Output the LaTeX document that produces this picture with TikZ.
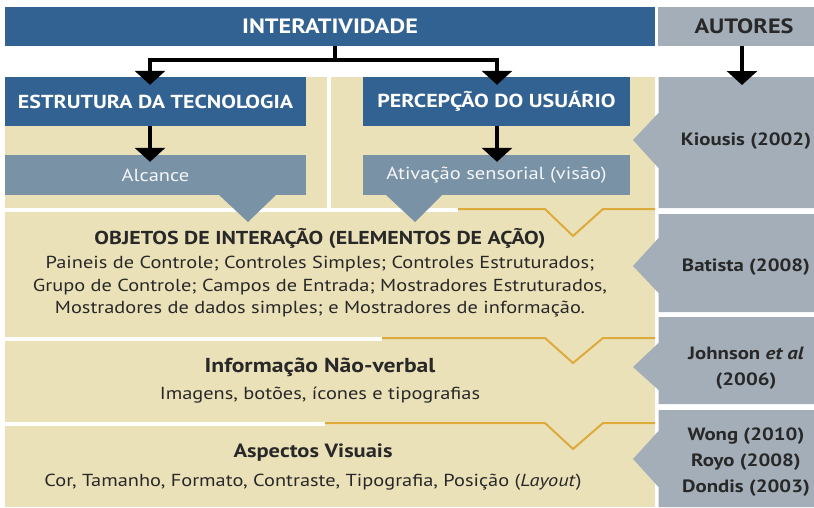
\documentclass[tikz,border=0pt]{standalone}
\usepackage{fontspec}
\setmainfont{PT Sans}[FakeStretch=1.17]
\usetikzlibrary{arrows.meta,positioning}

\definecolor{barblue}{RGB}{50,98,145}
\definecolor{subgray}{RGB}{122,146,166}
\definecolor{colgray}{RGB}{164,174,185}
\definecolor{beige}{RGB}{235,225,185}
\definecolor{lineorange}{RGB}{222,170,60}
\definecolor{txtdark}{RGB}{40,40,40}

\begin{document}
\begin{tikzpicture}[x=1pt, y=-1pt,
  node distance=3pt,
  headbar/.style={fill=barblue, text=white, minimum height=39pt, inner sep=0pt, font=\fontsize{20.7}{24}\selectfont\bfseries},
  headbox/.style={fill=barblue, text=white, minimum height=49pt, inner sep=0pt, font=\fontsize{18.8}{22}\selectfont\bfseries},
  subbox/.style={fill=subgray, text=white!92!subgray, minimum height=40pt, inner sep=0pt, font=\fontsize{17.5}{21}\selectfont},
  authtext/.style={text=txtdark, inner sep=0pt, align=center, font=\fontsize{17.8}{26}\selectfont\bfseries},
  rowtitle/.style={text=txtdark, inner sep=0pt, font=\fontsize{18.7}{23}\selectfont\bfseries},
  rowbody/.style={text=txtdark, inner sep=0pt, align=center, font=\fontsize{17.4}{22.5}\selectfont},
  arr/.style={-{Triangle[length=14pt,width=30pt]}, line width=4pt},
  chevron/.style={draw=lineorange, line width=2pt},
  gap/.style={draw=white, line width=4pt}
]
  \useasboundingbox[fill=white] (0,0) rectangle (814,507);

  % beige background and separations
  \fill[beige] (5,77) rectangle (655,507);
  \draw[gap] (328.5,77) -- (328.5,210);
  \draw[gap] (5,210) -- (458,210);
  \draw[gap] (5,339) -- (382,339);
  \draw[gap] (5,424) -- (325,424);
  \draw[chevron] (458,209) -- (545,209) -- (573,236) -- (603,209) -- (655,209);
  \draw[chevron] (382,338) -- (545,338) -- (573,363) -- (603,338) -- (655,338);
  \draw[chevron] (325,423) -- (545,423) -- (573,449) -- (603,423) -- (655,423);

  % top bars
  \node[headbar, minimum width=650pt] (inter) at (330,26.5) {INTERATIVIDADE};
  \node[headbar, fill=colgray, text=txtdark, minimum width=172pt] (autores) at (744,26.5) {AUTORES};

  % first level
  \node[headbox, minimum width=301pt] (estr) at (155.5,101.5) {ESTRUTURA DA TECNOLOGIA};
  \node[headbox, minimum width=267pt] (perc) at (496.5,101.5) {PERCEPÇÃO DO USUÁRIO};
  \node[subbox, minimum width=301pt] (alc) at (155.5,175) {Alcance};
  \node[subbox, minimum width=267pt] (ativ) at (496.5,175) {Ativação sensorial (visão)};
  \fill[subgray] (218,194) -- (248,222) -- (277,194) -- cycle;
  \fill[subgray] (385,194) -- (415,222) -- (443,194) -- cycle;

  % arrows
  \coordinate (split) at (335,60);
  \draw[line width=4pt] ([xshift=5pt]inter.south) -- (split);
  \draw[arr] (split) -| ([xshift=-5.5pt,yshift=-8pt]estr.north);
  \draw[arr] (split) -| ([xshift=0.5pt,yshift=-8pt]perc.north);
  \draw[arr] ([xshift=-5.5pt]estr.south) -- ([xshift=-5.5pt,yshift=-7pt]alc.north);
  \draw[arr] ([xshift=0.5pt]perc.south) -- ([xshift=0.5pt,yshift=-7pt]ativ.north);

  % rows
  \node[rowtitle] (objt) at (320,238) {OBJETOS DE INTERAÇÃO (ELEMENTOS DE AÇÃO)};
  \node[rowbody, below=8pt of objt] (objb) {Paineis de Controle; Controles Simples; Controles Estruturados;\\
    Grupo de Controle; Campos de Entrada; Mostradores Estruturados,\\
    Mostradores de dados simples; e Mostradores de informação.};
  \node[rowtitle, font=\fontsize{20.2}{24}\selectfont\bfseries] (infot) at (320,367) {Informação Não-verbal};
  \node[rowbody, below=10pt of infot] (infob) {Imagens, botões, ícones e tipografias};
  \node[rowtitle, font=\fontsize{19.2}{23}\selectfont\bfseries] (aspt) at (313,453) {Aspectos Visuais};
  \node[rowbody, below=12pt of aspt] (aspb) {Cor, Tamanho, Formato, Contraste, Tipografia, Posição (\textit{Layout})};

  % authors column
  \fill[colgray] (658.5,77) -- (830,77) -- (830,208) -- (658.5,208) -- (658.5,168) -- (633,140) -- (658.5,113) -- cycle;
  \fill[colgray] (658.5,214) -- (830,214) -- (830,312) -- (658.5,312) -- (658.5,293) -- (633,266) -- (658.5,238) -- cycle;
  \fill[colgray] (658.5,317) -- (830,317) -- (830,404) -- (658.5,404) -- (658.5,390) -- (633,367) -- (658.5,343) -- cycle;
  \fill[colgray] (658.5,410) -- (830,410) -- (830,507) -- (658.5,507) -- (658.5,487) -- (633,459) -- (658.5,431) -- cycle;
  \node[authtext] (kiou) at (746,141) {Kiousis (2002)};
  \node[authtext] (bati) at (746,267) {Batista (2008)};
  \node[authtext] (john) at (746,368) {Johnson \textit{et al}\\(2006)};
  \node[authtext] (wong) at (746,462) {Wong (2010)\\Royo (2008)\\Dondis (2003)};
  \coordinate (kioutop) at (742,85);
  \draw[arr] ([xshift=-2pt]autores.south) -- (kioutop);
\end{tikzpicture}
\end{document}
